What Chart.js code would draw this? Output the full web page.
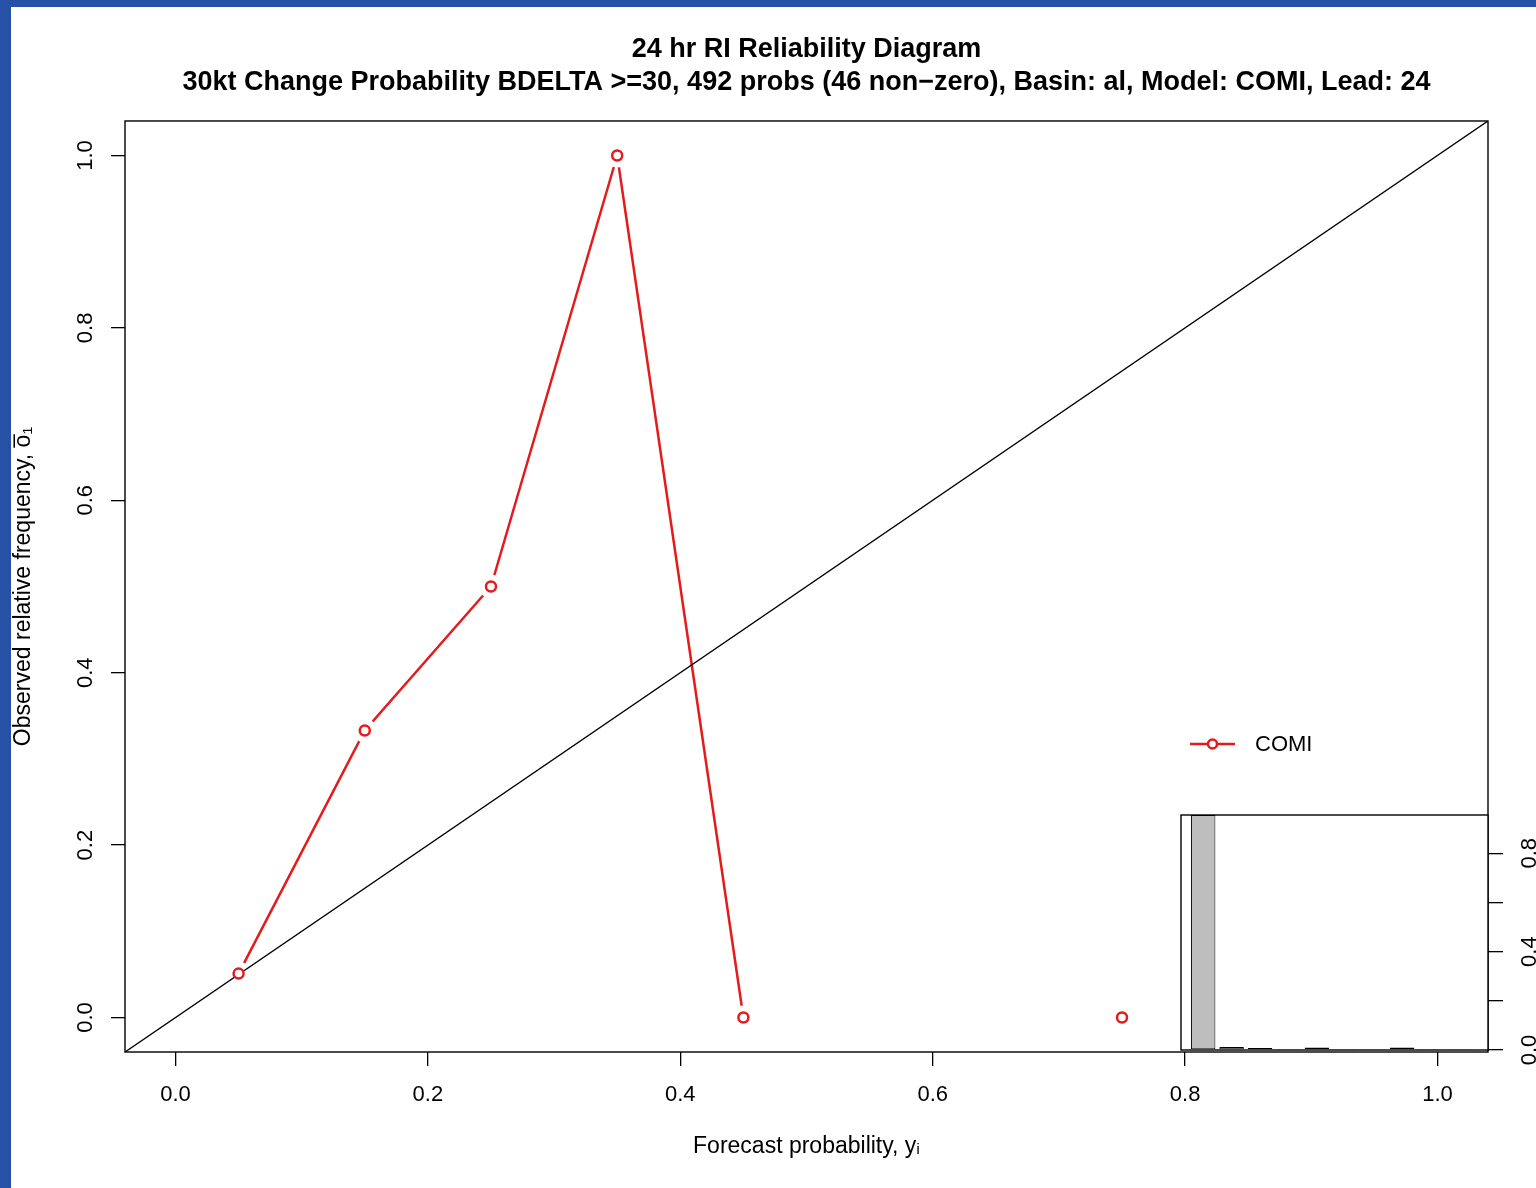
<!DOCTYPE html>
<html lang="en">
<head>
  <meta charset="UTF-8" />
  <title>24 hr RI Reliability Diagram</title>
  <script src="https://cdn.jsdelivr.net/npm/chart.js"></script>
  <style>
    body { margin: 0; background: #2651a6; width: 1536px; height: 1188px; overflow: hidden; }
    .hoja { position: absolute; left: 11px; top: 7px; width: 1525px; height: 1181px; background: #fff; }
    #principal { position: absolute; left: 0; top: 0; }
    #recuadro { position: absolute; left: 1170px; top: 800px; }
  </style>
</head>
<body>
  <div class="hoja"></div>
  <canvas id="principal" width="1536" height="1188"></canvas>
  <canvas id="recuadro" width="366" height="280"></canvas>

  <script>
    // datos
    const binCenters = [0.05, 0.15, 0.25, 0.35, 0.45, 0.55, 0.65, 0.75, 0.85, 0.95];
    const obsFreq = [0.051, 0.333, 0.5, 1.0, 0.0, null, null, 0.0, null, null];
    const binCounts = [470, 6, 4, 2, 5, 0, 0, 5, 0, 0];
    const axisTicks = [0, 0.2, 0.4, 0.6, 0.8, 1.0];
    const insetTicks = [0, 0.2, 0.4, 0.6, 0.8];
    const insetTickLabels = ['0.0', '', '0.4', '', '0.8'];
    const axisMin = -0.04, axisMax = 1.04;
    const modelName = 'COMI';
    const titleLines = [
      '24 hr RI Reliability Diagram',
      '30kt Change Probability BDELTA >=30, 492 probs (46 non\u2212zero), Basin: al, Model: COMI, Lead: 24'
    ];

    const rojo = '#e41a1c';
    Chart.defaults.font.family = '"Liberation Sans", Arial, sans-serif';
    Chart.defaults.color = '#000';

    const puntos = binCenters.map((x, i) => ({ x: x, y: obsFreq[i] }));
    const total = binCounts.reduce((a, b) => a + b, 0);
    const relFreq = binCounts.map(c => c / total);

    const caja = {
      id: 'caja',
      beforeDraw(chart) {
        const a = chart.chartArea, ctx = chart.ctx;
        ctx.save();
        ctx.fillStyle = '#fff';
        ctx.fillRect(a.left, a.top, a.right - a.left, a.bottom - a.top);
        ctx.restore();
      },
      afterDraw(chart) {
        const a = chart.chartArea, ctx = chart.ctx;
        ctx.save();
        ctx.strokeStyle = '#000';
        ctx.lineWidth = 1.4;
        ctx.strokeRect(a.left, a.top, a.right - a.left, a.bottom - a.top);
        ctx.restore();
      }
    };

    const leyenda = {
      id: 'leyenda',
      afterDraw(chart) {
        const ctx = chart.ctx;
        const y = 744;
        ctx.save();
        ctx.strokeStyle = rojo;
        ctx.lineWidth = 2.5;
        ctx.beginPath();
        ctx.moveTo(1190, y);
        ctx.lineTo(1235, y);
        ctx.stroke();
        ctx.beginPath();
        ctx.arc(1212.5, y, 4.5, 0, Math.PI * 2);
        ctx.fillStyle = '#fff';
        ctx.fill();
        ctx.stroke();
        ctx.fillStyle = '#000';
        ctx.font = '22px "Liberation Sans", Arial, sans-serif';
        ctx.textBaseline = 'middle';
        ctx.fillText(modelName, 1255, y + 1);
        ctx.restore();
      }
    };

    const ejeComun = {
      type: 'linear',
      min: axisMin,
      max: axisMax,
      afterBuildTicks: s => { s.ticks = axisTicks.map(v => ({ value: v })); },
      grid: { drawOnChartArea: false, color: '#000', lineWidth: 1.3, tickLength: 14 },
      border: { display: false }
    };

    new Chart(document.getElementById('principal'), {
      type: 'scatter',
      data: {
        datasets: [
          {
            label: modelName,
            data: puntos,
            showLine: true,
            spanGaps: false,
            borderColor: rojo,
            borderWidth: 2.5,
            pointRadius: 0,
            order: 4
          },
          {
            label: 'hueco',
            data: puntos,
            showLine: false,
            pointRadius: 12,
            pointBorderWidth: 0,
            pointBackgroundColor: '#fff',
            order: 3
          },
          {
            label: 'diagonal',
            data: [{ x: axisMin, y: axisMin }, { x: axisMax, y: axisMax }],
            showLine: true,
            borderColor: '#000',
            borderWidth: 1.4,
            pointRadius: 0,
            order: 2
          },
          {
            label: modelName + ' puntos',
            data: puntos,
            showLine: false,
            pointRadius: 5,
            pointBorderWidth: 2.5,
            pointBorderColor: rojo,
            pointBackgroundColor: '#fff',
            order: 1
          }
        ]
      },
      options: {
        responsive: false,
        animation: false,
        layout: { padding: { left: 0, right: 48, top: 0, bottom: 0 } },
        plugins: {
          legend: { display: false },
          tooltip: { enabled: false },
          title: {
            display: true,
            fullSize: false,
            text: titleLines,
            color: '#000',
            font: { size: 27, weight: 'bold', lineHeight: 1.222 },
            padding: { top: 33, bottom: 22 }
          }
        },
        scales: {
          x: Object.assign({}, ejeComun, {
            position: 'bottom',
            afterFit: s => { s.height = 136; },
            ticks: { font: { size: 22 }, padding: 16, callback: v => v.toFixed(1) },
            title: { display: true, text: 'Forecast probability, y\u1d62', font: { size: 23 }, padding: { top: 0, bottom: 28 } }
          }),
          y: Object.assign({}, ejeComun, {
            position: 'left',
            afterFit: s => { s.width = 125; },
            ticks: { font: { size: 22 }, padding: 10, minRotation: 90, maxRotation: 90, crossAlign: 'center', callback: v => v.toFixed(1) },
            title: { display: true, text: 'Observed relative frequency, o\u0305\u2081', font: { size: 23 }, padding: { top: 10, bottom: 0 } }
          })
        }
      },
      plugins: [caja, leyenda]
    });

    new Chart(document.getElementById('recuadro'), {
      type: 'bar',
      data: {
        datasets: [{
          label: 'frecuencia',
          data: binCenters.map((x, i) => ({ x: x, y: relFreq[i] })),
          backgroundColor: '#bebebe',
          borderColor: '#000',
          borderWidth: 1,
          borderSkipped: false,
          minBarLength: 1,
          barPercentage: 0.86,
          categoryPercentage: 1
        }]
      },
      options: {
        responsive: false,
        animation: false,
        layout: { padding: { left: 11, right: 0, top: 15, bottom: 30 } },
        plugins: { legend: { display: false }, tooltip: { enabled: false } },
        scales: {
          x: { type: 'linear', min: axisMin + 0.012, max: axisMax + 0.012, offset: false, display: false },
          y: {
            position: 'right',
            min: 0,
            max: Math.max(...relFreq),
            afterFit: s => { s.width = 48; s.paddingTop = 0; s.paddingBottom = 0; },
            afterBuildTicks: s => { s.ticks = insetTicks.map(v => ({ value: v })); },
            grid: { drawOnChartArea: false, color: '#000', lineWidth: 1.3, tickLength: 15 },
            border: { display: false },
            ticks: {
              font: { size: 22 }, padding: 12, minRotation: 90, maxRotation: 90, crossAlign: 'center',
              callback: (v, i) => insetTickLabels[i]
            }
          }
        }
      },
      plugins: [caja]
    });
  </script>
</body>
</html>
